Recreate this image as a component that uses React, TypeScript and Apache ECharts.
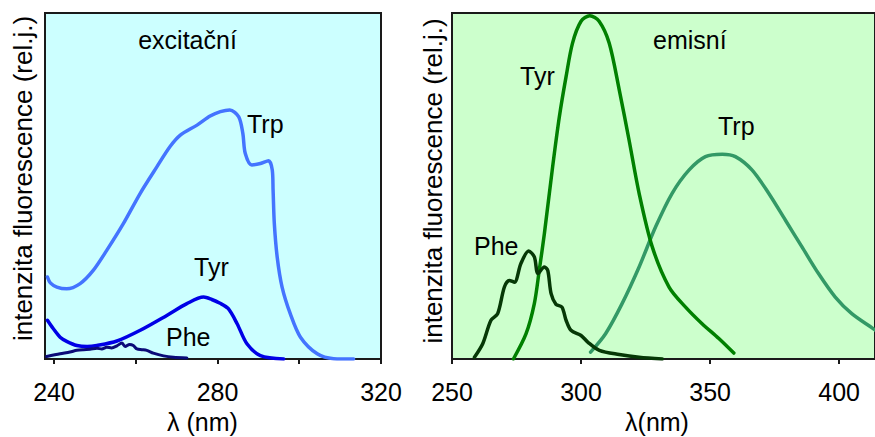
import React, { useEffect, useRef } from "react";
import * as echarts from "echarts";

const FONT = '"Liberation Sans", Arial, Helvetica, sans-serif';

// ---- excitation panel (left) ----
const excTicks = [240, 260, 280, 300, 320];
const excLabels = [240, 280, 320];

const excTrpNm = [238.4, 239.1, 240.7, 243.1, 246.4, 249.6, 252.9, 257.0, 261.1, 265.2, 268.4, 270.9, 275.0, 278.2, 280.7, 283.0, 285.2, 286.2, 286.8, 288.4, 290.5, 292.5, 293.4, 293.6, 293.9, 294.6, 295.8, 297.8, 300.3, 304.4, 308.4, 313.3];
const excTrpVal = [23.7, 22.0, 20.8, 20.3, 21.8, 25.6, 31.4, 39.2, 47.9, 55.6, 61.4, 64.7, 67.6, 70.2, 71.5, 72.0, 70.0, 65.2, 59.4, 56.1, 56.5, 57.3, 54.6, 48.8, 39.2, 29.5, 20.8, 13.1, 6.3, 1.5, 0.1, 0];

const excTyrNm = [238.4, 239.8, 241.5, 243.1, 245.6, 248.1, 250.5, 255.4, 261.1, 267.6, 272.5, 276.6, 278.6, 280.5, 282.6, 284.8, 287.2, 290.5, 296.2];
const excTyrVal = [11.2, 8.8, 6.3, 5.1, 3.9, 3.6, 3.9, 5.2, 8.3, 12.6, 16.0, 17.9, 17.2, 16.2, 14.6, 10.2, 4.4, 1.0, 0];

const excPheNm = [238.2, 241.5, 243.9, 245.6, 247.2, 248.8, 250.5, 251.7, 252.9, 254.1, 255.4, 256.6, 257.4, 258.5, 259.4, 260.3, 261.5, 262.7, 264.3, 266.8, 269.2, 272.5];
const excPheVal = [0.7, 1.5, 2.0, 2.5, 2.7, 2.8, 3.1, 2.9, 3.4, 3.2, 3.8, 4.6, 3.6, 4.2, 3.9, 2.9, 2.7, 2.5, 1.7, 0.9, 0.5, 0.3];

// ---- emission panel (right) ----
const emTicks = [250, 300, 350, 400];

const emTyrNm = [273.8, 278.7, 281.9, 283.8, 285.8, 289.0, 291.6, 294.2, 296.7, 300.0, 303.4, 307.0, 310.9, 314.8, 318.6, 322.5, 327.6, 334.1, 340.5, 346.9, 353.4, 359.2];
const emTyrVal = [0, 7.3, 16.0, 25.6, 36.3, 55.6, 70.0, 81.6, 91.3, 97.6, 99.2, 97.6, 91.3, 77.8, 63.3, 47.9, 32.4, 20.8, 15.0, 10.2, 5.9, 1.7];

const emTrpNm = [303.7, 309.5, 315.9, 322.5, 328.9, 335.3, 341.8, 348.2, 354.7, 359.8, 366.3, 372.7, 379.2, 385.6, 392.0, 398.5, 404.9, 413.3, 418.0];
const emTrpVal = [2.0, 7.3, 16.0, 26.6, 38.2, 47.9, 54.6, 58.5, 59.2, 58.5, 54.6, 47.9, 40.1, 32.4, 24.7, 17.9, 13.1, 8.7, 6.0];

const emPheNm = [258.7, 261.9, 265.1, 267.7, 270.3, 272.2, 274.2, 276.7, 279.7, 281.9, 283.3, 285.8, 287.1, 288.4, 290.3, 292.6, 294.2, 296.1, 300.0, 302.6, 307.1, 314.8, 322.5, 331.5];
const emPheVal = [0.5, 4.4, 11.2, 13.1, 20.8, 22.7, 22.2, 27.6, 31.2, 29.5, 24.7, 26.6, 25.6, 18.9, 15.8, 15.0, 11.2, 8.3, 6.8, 4.9, 2.5, 1.3, 0.5, 0];

const zip = (xs: number[], ys: number[]) => xs.map((x, i) => [x, ys[i]]);

const AXIS_COLOR = "#1a1a1a";

function xAxisCfg(gridIndex: number, min: number, max: number, ticks: number[], labels: number[]) {
  return {
    type: "value",
    gridIndex,
    min,
    max,
    axisLine: { show: true, lineStyle: { color: AXIS_COLOR, width: 2 } },
    axisTick: { show: true, customValues: ticks, length: 5, lineStyle: { color: AXIS_COLOR, width: 2 } },
    axisLabel: { show: true, customValues: labels, fontSize: 25, fontFamily: FONT, color: "#000", margin: 20 },
    splitLine: { show: false },
  };
}

function yAxisCfg(gridIndex: number) {
  return {
    type: "value",
    gridIndex,
    min: 0,
    max: 100,
    axisLine: { show: true, lineStyle: { color: AXIS_COLOR, width: 2 } },
    axisTick: { show: false },
    axisLabel: { show: false },
    splitLine: { show: false },
  };
}

function lineSeries(xi: number, data: number[][], color: string, width: number) {
  return {
    type: "line",
    xAxisIndex: xi,
    yAxisIndex: xi,
    data,
    showSymbol: false,
    symbol: "none",
    smooth: 0.3,
    clip: true,
    silent: true,
    lineStyle: { color, width, cap: "round", join: "round" },
  };
}

function label(text: string, x: number, y: number, align = "left", size = 25, rotation = 0) {
  return {
    type: "text",
    x,
    y,
    rotation,
    silent: true,
    z: 100,
    style: {
      text,
      fontSize: size,
      fontFamily: FONT,
      fill: "#000",
      align,
      verticalAlign: "middle",
    },
  };
}

export default function App() {
  const ref = useRef<HTMLDivElement>(null);
  useEffect(() => {
    if (!ref.current) return;
    const chart = echarts.init(ref.current, undefined, { renderer: "svg" });
    chart.setOption({
      animation: false,
      backgroundColor: "#ffffff",
      grid: [
        { left: 45, top: 13, width: 336, height: 346, show: true, backgroundColor: "#ccffff", borderColor: AXIS_COLOR, borderWidth: 2 },
        { left: 452, top: 13, width: 424, height: 346, show: true, backgroundColor: "#ccffcc", borderColor: AXIS_COLOR, borderWidth: 2 },
      ],
      xAxis: [
        xAxisCfg(0, 237.8, 320, excTicks, excLabels),
        xAxisCfg(1, 250, 413.9, emTicks, emTicks),
      ],
      yAxis: [yAxisCfg(0), yAxisCfg(1)],
      series: [
        lineSeries(0, zip(excTrpNm, excTrpVal), "#4474ff", 3.5),
        lineSeries(0, zip(excTyrNm, excTyrVal), "#0000e6", 3.5),
        lineSeries(0, zip(excPheNm, excPheVal), "#0a0a78", 3),
        lineSeries(1, zip(emTrpNm, emTrpVal), "#339966", 3.5),
        lineSeries(1, zip(emTyrNm, emTyrVal), "#008000", 3.5),
        lineSeries(1, zip(emPheNm, emPheVal), "#063806", 3.5),
      ],
      graphic: [
        label("excitační", 187.5, 39.5, "center"),
        label("Trp", 247, 124),
        label("Tyr", 194, 267),
        label("Phe", 166, 337),
        label("emisní", 653, 39.5),
        label("Tyr", 520, 76),
        label("Trp", 718, 126),
        label("Phe", 474, 246),
        label("λ (nm)", 202.5, 421.5, "center"),
        label("λ(nm)", 657, 421.5, "center"),
        label("intenzita fluorescence (rel.j.)", 23, 178.5, "center", 26, Math.PI / 2),
        label("intenzita fluorescence (rel.j.)", 433, 181, "center", 26, Math.PI / 2),
      ],
    });
    return () => chart.dispose();
  }, []);
  return <div ref={ref} style={{ position: "absolute", left: 0, top: 0, width: 875, height: 437 }} />;
}
